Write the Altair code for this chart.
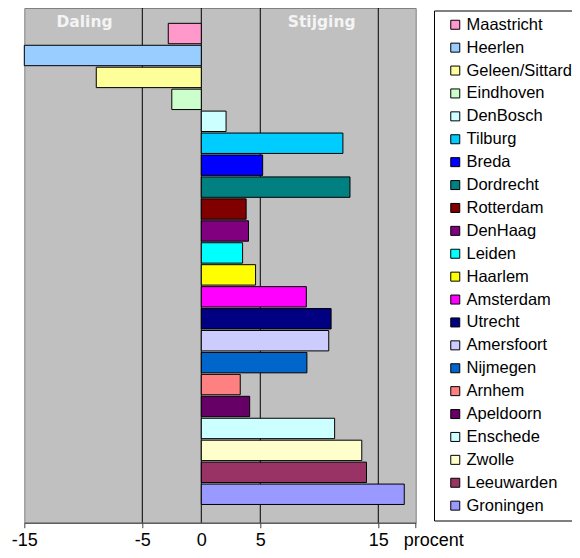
import altair as alt
import pandas as pd

cities = ["Maastricht", "Heerlen", "Geleen/Sittard", "Eindhoven", "DenBosch",
          "Tilburg", "Breda", "Dordrecht", "Rotterdam", "DenHaag", "Leiden",
          "Haarlem", "Amsterdam", "Utrecht", "Amersfoort", "Nijmegen", "Arnhem",
          "Apeldoorn", "Enschede", "Zwolle", "Leeuwarden", "Groningen"]
values = [-2.8, -15.0, -8.9, -2.5, 2.1, 12.0, 5.2, 12.6, 3.8, 4.0, 3.5,
          4.6, 8.9, 11.0, 10.8, 8.95, 3.3, 4.1, 11.3, 13.6, 14.0, 17.2]
colors = ["#FF99CC", "#99CCFF", "#FFFF99", "#CCFFCC", "#CCFFFF",
          "#00CCFF", "#0000FF", "#008080", "#800000", "#800080", "#00FFFF",
          "#FFFF00", "#FF00FF", "#000080", "#CCCCFF", "#0066CC", "#FF8080",
          "#660066", "#CCFFFF", "#FFFFCC", "#993366", "#9999FF"]
grid_values = [-5, 0, 5, 15]
tick_values = [-15, -5, 0, 5, 15, 18.17]
annot_text = ["Daling", "Stijging"]
annot_x = [-9.9, 10.2]

df = pd.DataFrame({"stad": cities, "procent": values})
df_grid = pd.DataFrame({"v": grid_values})
df_text = pd.DataFrame({"t": annot_text, "x": annot_x})

x_scale = alt.Scale(domain=[-15, 18.17], nice=False, zero=False)
y_scale = alt.Scale(domain=cities, paddingInner=0.07, paddingOuter=0.765, align=0.457)
color_scale = alt.Scale(domain=cities, range=colors)

x_axis = alt.Axis(
    values=tick_values,
    labelExpr="datum.value > 16 ? '' : toString(datum.value)",
    grid=False, tickSize=5,
    tickColor={"condition": {"test": "datum.value === 0", "value": "transparent"}, "value": "#404040"},
    domainColor="#404040", labelFont="Liberation Sans", labelFontSize=18,
    labelColor="black", labelPadding=3.5, labelFlush=False, labelOverlap=False,
    title="procent", titleFont="Liberation Sans", titleFontSize=18,
    titleFontWeight="normal", titleColor="black", titleX=409, titleY=8.5,
    titleBaseline="top", titleAlign="center", titleAngle=0,
)

grid = alt.Chart(df_grid).mark_rule(color="black", strokeWidth=1).encode(
    x=alt.X("v:Q", scale=x_scale, axis=x_axis)
)

bars = alt.Chart(df).mark_bar(stroke="black", strokeWidth=1, opacity=1).encode(
    x=alt.X("procent:Q", scale=x_scale, axis=x_axis),
    x2=alt.datum(0),
    y=alt.Y("stad:N", scale=y_scale, sort=cities, axis=None),
    color=alt.Color(
        "stad:N", scale=color_scale, sort=cities,
        legend=alt.Legend(
            title=None, orient="none", legendX=409.7, legendY=2.5,
            symbolType="square", symbolSize=81, symbolStrokeColor="black",
            symbolStrokeWidth=1, symbolOpacity=1,
            labelFont="Liberation Sans", labelFontSize=16.5, labelColor="black",
            labelOffset=3, labelLimit=300, rowPadding=5.9, padding=6,
            symbolOffset=7, strokeColor="black", fillColor="white", offset=0,
        ),
    ),
)

text = alt.Chart(df_text).mark_text(
    font="DejaVu Sans", fontWeight="bold", fontSize=15.5, color="#F4F4F4",
    baseline="alphabetic", align="center",
).encode(
    x=alt.X("x:Q", scale=x_scale, axis=x_axis),
    y=alt.value(19),
    text="t:N",
)

chart = alt.layer(grid, bars, text).properties(
    width=391.4, height=514.7,
    autosize=alt.AutoSizeParams(type="none"),
    padding={"left": 16.3, "top": 0, "right": 156.3, "bottom": 27.3},
).configure_view(fill="#C0C0C0", stroke="#808080", strokeWidth=1)

chart.save("out.html", embed_options={"renderer": "svg", "actions": False})
